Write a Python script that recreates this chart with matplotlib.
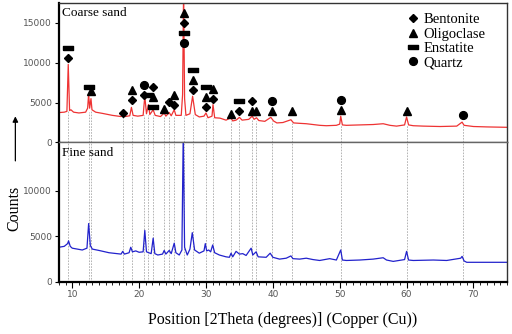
import numpy as np
import matplotlib
matplotlib.use("Agg")
import matplotlib.pyplot as plt
import matplotlib.ticker as ticker

# XRD traces (2theta, counts)
coarse_2t = [8.0, 8.8, 9.2, 9.4, 9.6, 9.8, 10.2, 11.0, 12.0, 12.3, 12.45, 12.6, 12.8, 12.95,
             13.5, 14.5, 16.0, 17.3, 17.65, 17.9, 18.6, 18.85, 19.1, 19.8, 20.6, 20.85, 21.1,
             21.4, 21.6, 22.1, 22.4, 23.2, 23.75, 24.0, 24.5, 24.8, 25.25, 25.5, 26.3, 26.5,
             26.65, 26.8, 27.0, 27.6, 28.0, 28.4, 29.0, 29.7, 30.0, 30.3, 30.9, 31.05, 31.3,
             32.1, 33.0, 33.7, 34.0, 34.5, 35.0, 35.4, 36.4, 36.9, 37.2, 37.55, 37.9, 38.8,
             39.7, 40.1, 40.6, 41.5, 42.7, 43.1, 44.0, 45.0, 46.0, 47.0, 48.0, 49.5, 50.0,
             50.15, 50.4, 51.0, 53.0, 55.0, 56.5, 57.5, 58.5, 59.7, 60.0, 60.3, 61.0, 62.5,
             65.0, 67.5, 68.3, 68.6, 70.0, 72.0, 75.0]
coarse_cnt = [3750, 3800, 3900, 9800, 4000, 4100, 3800, 3700, 3800, 4300, 6100, 4300, 5500, 4100,
              3800, 3650, 3400, 3250, 3550, 3250, 3350, 4400, 3400, 3300, 3400, 5800, 3600,
              4750, 3500, 4100, 3400, 3250, 3700, 3300, 3750, 3350, 4100, 3400, 3400, 6000,
              19000, 5500, 3400, 3600, 5800, 3500, 3200, 3300, 3700, 3100, 3300, 4750, 3100,
              3050, 2800, 3100, 2700, 2800, 3150, 2800, 2900, 3300, 2900, 3100, 2750, 2650,
              3150, 2700, 2450, 2500, 2850, 2450, 2400, 2350, 2250, 2150, 2100, 2150, 2300,
              3300, 2200, 2150, 2200, 2250, 2350, 2150, 2050, 2200, 3200, 2200, 2100, 2050,
              2000, 2050, 2550, 2150, 2000, 1950, 1900]

fine_2t = [8.0, 8.8, 9.3, 9.45, 9.7, 10.0, 11.5, 12.2, 12.45, 12.7, 13.0, 14.0, 15.5, 17.3,
           17.55, 17.8, 18.5, 18.75, 19.0, 19.5, 20.0, 20.6, 20.85, 21.1, 21.45, 21.8, 22.1,
           22.35, 22.8, 23.5, 23.75, 24.0, 24.5, 24.8, 25.25, 25.5, 26.0, 26.4, 26.6, 26.8,
           27.2, 27.6, 27.95, 28.3, 29.0, 29.7, 29.9, 30.1, 30.4, 30.7, 31.0, 31.3, 32.0,
           33.0, 33.5, 33.75, 34.0, 34.5, 35.0, 35.5, 36.0, 36.75, 37.0, 37.5, 37.8, 39.0,
           39.6, 40.0, 41.0, 42.0, 42.7, 43.0, 44.0, 45.0, 46.0, 47.0, 48.5, 49.5, 50.15,
           50.4, 51.0, 53.0, 55.0, 56.5, 57.0, 58.0, 59.7, 60.0, 60.3, 61.0, 64.0, 66.0,
           68.1, 68.3, 68.6, 69.0, 72.0, 75.0]
fine_cnt = [3800, 3900, 4200, 4500, 3900, 3700, 3500, 3700, 6400, 4000, 3600, 3450, 3200, 3050,
            3350, 3050, 3200, 3800, 3300, 3400, 3250, 3300, 5650, 3300, 3200, 3100, 4800,
            3100, 2950, 3050, 3450, 3050, 3450, 3100, 4250, 3200, 2950, 3500, 16500, 3800,
            2950, 3600, 5400, 3500, 3150, 3400, 4200, 3400, 3500, 3300, 4050, 3200, 2950,
            2750, 2700, 3150, 2750, 3350, 3050, 3100, 2900, 3700, 2950, 3300, 2750, 2700,
            3150, 2700, 2500, 2600, 2850, 2550, 2500, 2600, 2450, 2350, 2550, 2400, 3500,
            2400, 2350, 2400, 2500, 2650, 2400, 2250, 2450, 3350, 2400, 2350, 2400, 2350,
            2600, 2800, 2300, 2150, 2150, 2150]

# identified peaks: position, minerals (bottom to top), count of lowest marker
peak_2t = [9.4, 12.45, 12.8, 17.65, 18.9, 20.8, 21.4, 22.1, 23.75, 24.5, 25.25, 26.65,
           28.0, 30.0, 31.0, 33.75, 35.0, 36.95, 37.55, 39.8, 42.9, 50.2, 60.0, 68.5]
peak_phases = [["B", "E"], ["E"], ["O"], ["B"], ["B", "O"], ["B", "Q"], ["E"],
               ["E", "O", "B"], ["O"], ["B"], ["B", "O"], ["Q", "E", "B", "O"],
               ["B", "O", "E"], ["B", "O", "E"], ["B", "O"], ["O"], ["B", "E"],
               ["O", "B"], ["O"], ["O", "Q"], ["O"], ["O", "Q"], ["O"], ["Q"]]
peak_label_y = [10600, 7000, 6400, 3700, 5300, 6000, 5900, 4500, 4200, 5100, 4700, 12500,
                6600, 4500, 5500, 3600, 3900, 3900, 3900, 3900, 3900, 4100, 3900, 3400]

phase_names = ["Bentonite", "Oligoclase", "Enstatite", "Quartz"]
phase_keys = ["B", "O", "E", "Q"]

rect = [(-1, -0.5), (1, -0.5), (1, 0.5), (-1, 0.5), (-1, -0.5)]
phase_style = {"B": dict(marker="D", ms=4.0),
               "O": dict(marker="^", ms=5.3),
               "E": dict(marker=rect, ms=6.8),
               "Q": dict(marker="o", ms=5.6)}

serif = "Liberation Serif"
tick_gray = "#555555"

fig, (ax1, ax2) = plt.subplots(2, 1, sharex=True, figsize=(5.12, 3.34), dpi=100)
fig.subplots_adjust(left=0.115, right=0.99, top=0.991, bottom=0.156, hspace=0)

# dashed reference lines
cx = np.array(coarse_2t)
cy = np.array(coarse_cnt)
for p in peak_2t:
    near = (cx > p - 0.6) & (cx < p + 0.6)
    top = cy[near].min() if near.any() else np.interp(p, cx, cy)
    ax1.plot([p, p], [0, top], color="#aaaaaa", lw=0.6, ls=(0, (2, 1.5)), zorder=1)
    ax2.axvline(p, color="#aaaaaa", lw=0.6, ls=(0, (2, 1.5)), zorder=1)

ax1.plot(coarse_2t, coarse_cnt, color="#ee3333", lw=0.9, zorder=2)
ax2.plot(fine_2t, fine_cnt, color="#2222cc", lw=0.9, zorder=2)

# marker stacks
step = 1250
for p, phases, y0 in zip(peak_2t, peak_phases, peak_label_y):
    for i, k in enumerate(phases):
        ax1.plot(p, y0 + i * step, color="black", ls="none", zorder=3, **phase_style[k])

handles = [ax1.plot([], [], color="black", ls="none", **phase_style[k])[0] for k in phase_keys]
ax1.legend(handles, phase_names, loc="upper right", frameon=False,
           prop={"family": serif, "size": 10.5}, handlelength=0.8, handletextpad=0.3,
           labelspacing=0.08, borderaxespad=0.3, bbox_to_anchor=(0.975, 1.0))

ax1.set_ylim(0, 17500)
ax2.set_ylim(0, 15300)
ax1.set_xlim(8, 75)
ax1.set_yticks([0, 5000, 10000, 15000])
ax2.set_yticks([0, 5000, 10000])
ax2.xaxis.set_major_locator(ticker.MultipleLocator(10))
ax2.xaxis.set_minor_locator(ticker.MultipleLocator(1))

for ax in (ax1, ax2):
    ax.tick_params(axis="y", labelsize=6.5, labelcolor=tick_gray, length=3, width=0.8, pad=2)
    for s in ax.spines.values():
        s.set_color("#333333")
        s.set_linewidth(1.0)
    ax.spines["left"].set_linewidth(1.6)
    ax.spines["left"].set_color("black")
ax1.tick_params(axis="x", bottom=False, which="both")
ax2.tick_params(axis="x", which="major", labelsize=6.5, labelcolor=tick_gray, length=4, width=0.8, pad=2)
ax2.tick_params(axis="x", which="minor", length=2.5, width=0.6)
ax2.spines["bottom"].set_linewidth(1.6)
ax2.spines["bottom"].set_color("black")
ax1.spines["bottom"].set_color("#666666")
ax2.spines["top"].set_color("#666666")

ax1.text(0.008, 0.97, "Coarse sand", transform=ax1.transAxes, va="top", ha="left",
         family=serif, fontsize=9.5)
ax2.text(0.008, 0.97, "Fine sand", transform=ax2.transAxes, va="top", ha="left",
         family=serif, fontsize=9.5)

ax2.set_xlabel("Position [2Theta (degrees)] (Copper (Cu))", family=serif, fontsize=11.5, labelpad=9)
fig.text(0.028, 0.375, "Counts", rotation=90, family=serif, fontsize=11.5, ha="center", va="center")
fig.add_artist(matplotlib.patches.FancyArrowPatch((0.03, 0.51), (0.03, 0.66),
               transform=fig.transFigure, arrowstyle="-|>", mutation_scale=8,
               color="black", lw=0.9))

fig.savefig("out.png", dpi=100)
